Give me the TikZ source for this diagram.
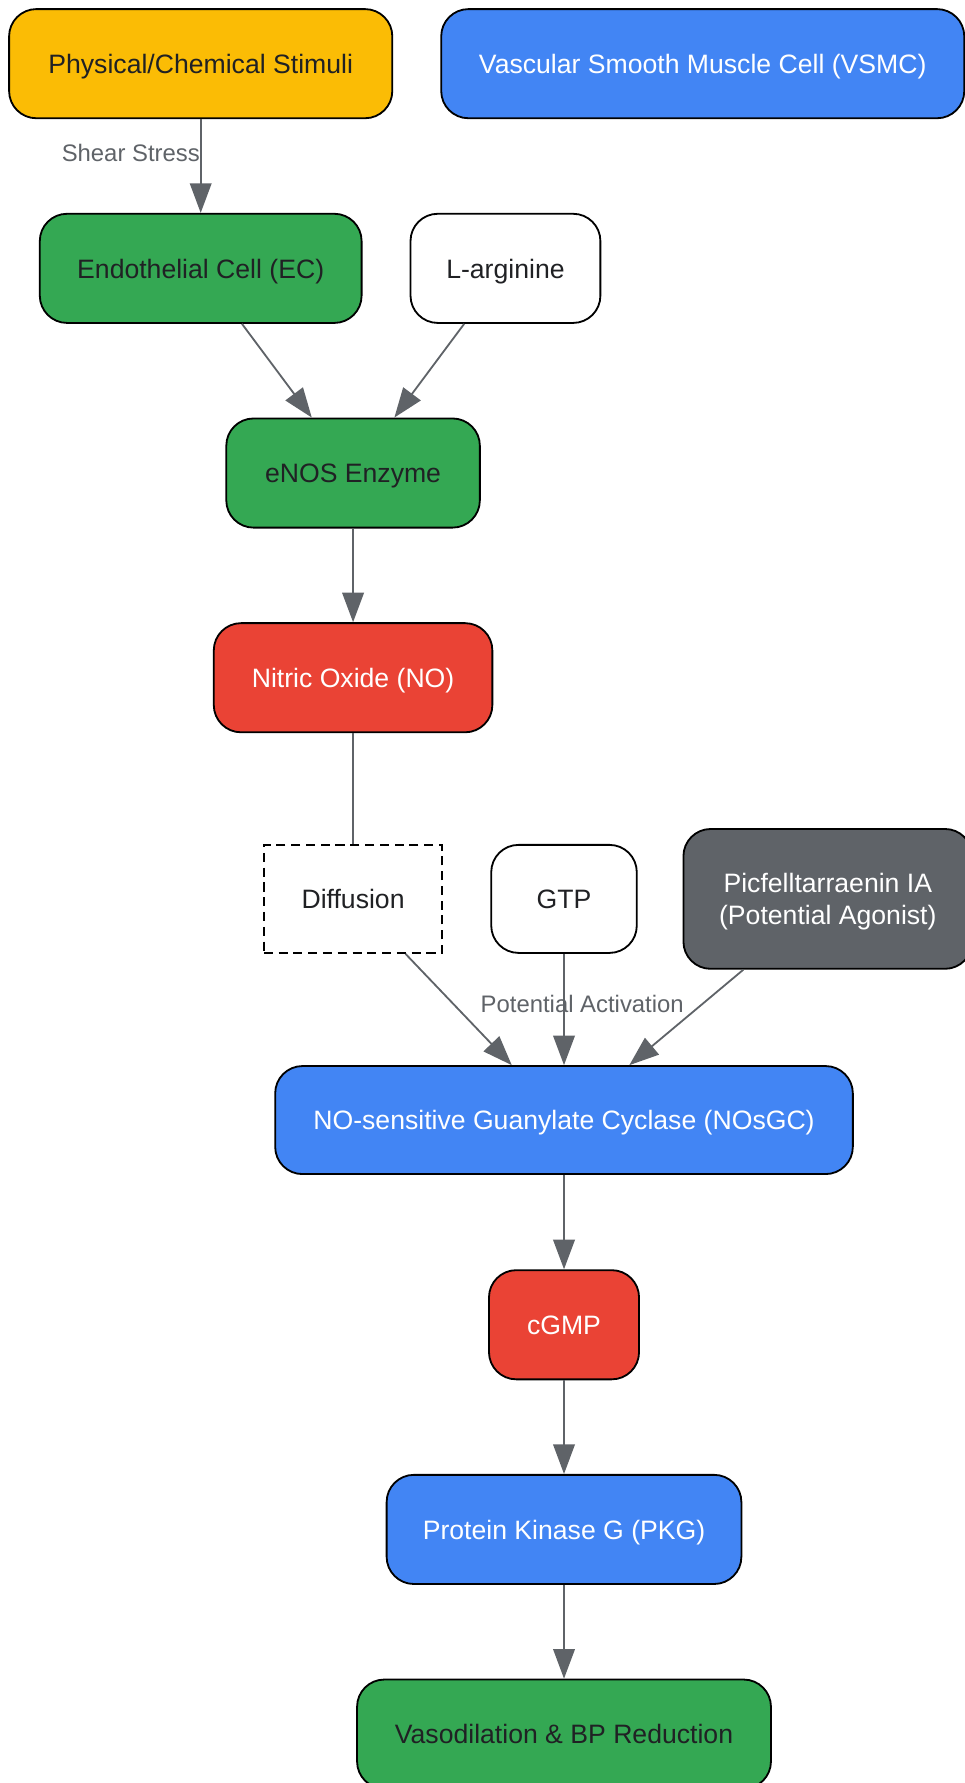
\documentclass[tikz,border=0pt]{standalone}
\usepackage{fontspec}
\setmainfont{Liberation Sans}
\usepackage{xcolor}
\usepackage{tikz}
\usetikzlibrary{arrows.meta}
\definecolor{gyellow}{HTML}{FBBC05}
\definecolor{gblue}{HTML}{4285F4}
\definecolor{ggreen}{HTML}{34A853}
\definecolor{gred}{HTML}{EA4335}
\definecolor{ggrey}{HTML}{5F6368}
\definecolor{ink}{HTML}{202124}

\begin{document}
\begin{tikzpicture}[x=1pt,y=-1pt,
    box/.style={draw=black,line width=1.6pt,rounded corners=24pt,inner sep=0pt,align=center,minimum height=96pt,text height=17pt,text depth=0pt,font=\fontsize{23.4}{28}\selectfont,text=ink},
    lightbox/.style={box,text=white},
    flow/.style={draw=ggrey,line width=1.6pt,-{Triangle[length=26pt,width=19pt]}},
    lbl/.style={text=ggrey,font=\fontsize{21}{25}\selectfont,inner sep=0pt}]
    \useasboundingbox (0,0) rectangle (848,1568);
    \node[box,fill=gyellow,minimum width=337pt] (stim) at (176.5,56) {Physical/Chemical Stimuli};
    \node[lightbox,fill=gblue,minimum width=460pt] (vsmc) at (618,56) {Vascular Smooth Muscle Cell (VSMC)};
    \node[box,fill=ggreen,minimum width=283pt] (ec) at (176.5,236) {Endothelial Cell (EC)};
    \node[box,fill=white,minimum width=167pt] (larg) at (444.5,236) {L-arginine};
    \node[box,fill=ggreen,minimum width=223pt] (enos) at (310.5,416) {eNOS Enzyme};
    \node[lightbox,fill=gred,minimum width=245pt] (no) at (310.5,596) {Nitric Oxide (NO)};
    \node[box,fill=white,rounded corners=0pt,dash pattern=on 8pt off 5pt,minimum width=157pt,minimum height=95pt] (diff) at (310.5,790.5) {Diffusion};
    \node[box,fill=white,minimum width=128pt,minimum height=95pt] (gtp) at (496,790.5) {GTP};
    \node[lightbox,fill=ggrey,minimum width=254pt,minimum height=123pt,text height=45pt] (pic) at (728,790.5) {Picfelltarraenin IA\\(Potential Agonist)};
    \node[lightbox,fill=gblue,minimum width=508pt,minimum height=95pt] (gc) at (496,985) {NO-sensitive Guanylate Cyclase (NOsGC)};
    \node[lightbox,fill=gred,minimum width=132pt] (cgmp) at (496,1165) {cGMP};
    \node[lightbox,fill=gblue,minimum width=312pt] (pkg) at (496,1345) {Protein Kinase G (PKG)};
    \node[box,fill=ggreen,minimum width=364pt] (vaso) at (496,1525) {Vasodilation \& BP Reduction};

    \draw[flow] (stim) -- node[lbl,left,pos=0.36]{Shear Stress} (ec);
    \draw[flow] (ec) -- (enos);
    \draw[flow] (larg) -- (enos);
    \draw[flow] (enos) -- (no);
    \draw[draw=ggrey,line width=1.6pt] (no) -- (diff);
    \draw[flow] (diff) -- (gc);
    \draw[flow] (gtp) -- (gc);
    \draw[flow] (pic) -- (gc);
    \node[lbl] (act) at (512,883) {Potential Activation};
    \draw[flow] (gc) -- (cgmp);
    \draw[flow] (cgmp) -- (pkg);
    \draw[flow] (pkg) -- (vaso);
  \end{tikzpicture}
\end{document}
